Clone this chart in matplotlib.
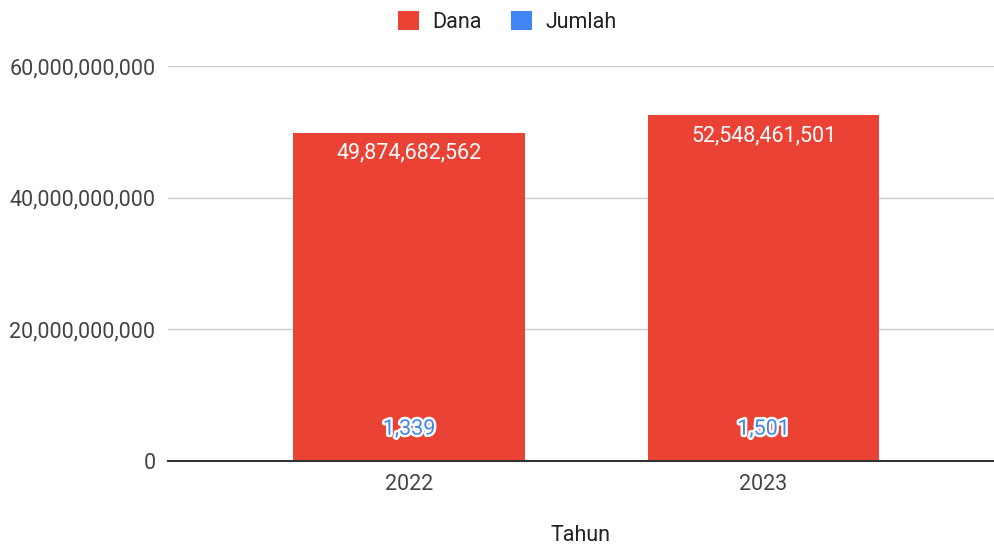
import matplotlib
matplotlib.use("Agg")
import matplotlib.pyplot as plt
import matplotlib.patheffects as pe
from matplotlib.ticker import FuncFormatter

plt.rcParams['font.family'] = ['Roboto', 'DejaVu Sans']

tahun = ['2022', '2023']
dana = [49874682562, 52548461501]
jumlah = [1339, 1501]

red = '#EA4335'
blue = '#4285F4'
fs = 15.5

fig = plt.figure(figsize=(9.94, 5.47), dpi=100)
ax = fig.add_axes([0.169, 0.157, 0.831, 0.722])

x = list(range(len(tahun)))
ax.bar(x, dana, width=0.653, color=red, zorder=2, label='Dana')
ax.bar(x, jumlah, width=0.653, bottom=dana, color=blue, zorder=2, label='Jumlah')

# label nilai
for xi, v in zip(x, dana):
    ax.annotate(f'{v:,}', (xi, v), xytext=(0, -7), textcoords='offset points',
                ha='center', va='top', color='white', fontsize=fs)
for xi, v in zip(x, jumlah):
    ax.annotate(f'{v:,}', (xi, 0), xytext=(0, 23), textcoords='offset points',
                ha='center', va='center', color=blue, fontsize=fs,
                path_effects=[pe.withStroke(linewidth=3.5, foreground='white')])

ax.set_xlim(-0.68, 1.65)
ax.set_ylim(0, 60e9)
ax.set_yticks([0, 20e9, 40e9, 60e9])
ax.yaxis.set_major_formatter(FuncFormatter(lambda v, p: f'{int(v):,}'))
ax.set_xticks(x)
ax.set_xticklabels(tahun)
ax.tick_params(axis='both', length=0, labelsize=fs, labelcolor='#444444')
ax.tick_params(axis='y', pad=9)
ax.tick_params(axis='x', pad=9)

ax.grid(axis='y', color='#cccccc', linewidth=1, zorder=0)
for s in ['top', 'right', 'left']:
    ax.spines[s].set_visible(False)
ax.spines['bottom'].set_color('#333333')
ax.spines['bottom'].set_linewidth(1.5)
ax.spines['bottom'].set_zorder(3)

ax.set_xlabel('Tahun', fontsize=fs, color='#222222', labelpad=22)

fig.legend(loc='center', bbox_to_anchor=(0.51, 0.96), ncol=2, frameon=False,
           fontsize=fs, handlelength=1.0, handleheight=1.0, columnspacing=1.35,
           handletextpad=0.6, labelcolor='#222222')

fig.savefig('out.png', dpi=100)
